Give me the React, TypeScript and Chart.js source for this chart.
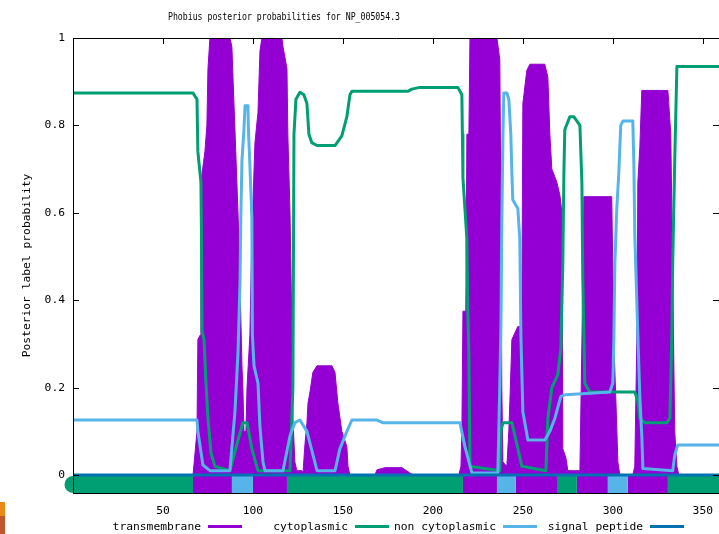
import React, { useEffect, useRef } from 'react';
import { Chart, registerables } from 'chart.js';

Chart.register(...registerables);

// ---------- text ----------
const TITLE = 'Phobius posterior probabilities for NP_005054.3';
const Y_TITLE = 'Posterior label probability';

// ---------- ticks ----------
const xTickValues = [50, 100, 150, 200, 250, 300, 350];
const xTickLabels = ['50', '100', '150', '200', '250', '300', '350'];
const yTickValues = [0, 0.2, 0.4, 0.6, 0.8, 1];
const yTickLabels = ['0', '0.2', '0.4', '0.6', '0.8', '1'];

// ---------- series ----------
const seriesNames = ['transmembrane', 'cytoplasmic', 'non cytoplasmic', 'signal peptide'];
const seriesColors = ['#9400d3', '#009e73', '#56b4e9', '#0072b2'];

// transmembrane posterior (residue position, probability)
const tmPos = [0, 66.7, 68.9, 69.4, 70.6, 71.1, 73.3, 74.4, 75, 76.1, 87.2, 88.3, 88.9, 90, 91.7, 92.8, 93.9, 94.4, 95, 96.1, 96.7, 98.3, 99.4, 101.1, 102.8, 103.9, 105, 116.1, 116.7, 118.9, 119.4, 120.6, 121.7, 122.2, 123.3, 124.4, 127.2, 127.8, 128.9, 130, 130.6, 131.7, 133.3, 135.6, 143.9, 145.6, 147.2, 149.4, 152.2, 152.8, 153.9, 167.8, 168.9, 173.3, 182.8, 187.2, 188.9, 214.4, 215.6, 216.1, 216.7, 218.3, 218.9, 220, 220.6, 235.6, 237.2, 237.8, 238.3, 238.9, 241.1, 242.2, 242.8, 243.9, 247.2, 249.4, 250, 252.2, 253.9, 262.2, 263.9, 265, 266.1, 268.9, 270.6, 271.7, 272.2, 273.9, 275, 281.7, 282.8, 283.9, 299.4, 300.6, 301.7, 302.8, 303.9, 311.1, 312.2, 313.3, 313.9, 315, 316.1, 330.6, 332.2, 333.3, 334.4, 335.6, 336.7, 359];
const tmProb = [0, 0, 0.1, 0.31, 0.32, 0.67, 0.74, 0.8, 0.93, 1, 1, 0.98, 0.91, 0.79, 0.6, 0.44, 0.25, 0.2, 0.1, 0.1, 0.2, 0.32, 0.55, 0.76, 0.83, 0.97, 1, 1, 0.98, 0.93, 0.78, 0.6, 0.32, 0.13, 0.03, 0.01, 0.01, 0.005, 0.07, 0.12, 0.165, 0.19, 0.235, 0.25, 0.25, 0.235, 0.165, 0.1, 0.065, 0.02, 0, 0, 0.012, 0.017, 0.017, 0.005, 0, 0, 0.02, 0.1, 0.375, 0.375, 0.78, 0.78, 1, 1, 0.95, 0.6, 0.2, 0.03, 0.02, 0.1, 0.17, 0.31, 0.34, 0.34, 0.85, 0.926, 0.94, 0.94, 0.91, 0.78, 0.7, 0.67, 0.64, 0.6, 0.06, 0.04, 0.01, 0.01, 0.3, 0.637, 0.637, 0.3, 0.17, 0.03, 0, 0, 0.02, 0.3, 0.67, 0.75, 0.88, 0.88, 0.78, 0.45, 0.1, 0.02, 0, 0];

// cytoplasmic posterior
const cytoPos = [0, 66.7, 68.9, 69.4, 71.1, 71.4, 71.7, 72.8, 73.9, 75, 76.7, 78.9, 87.2, 91.7, 94.4, 96.7, 99.4, 102.8, 120.6, 122.2, 122.8, 123.9, 126.1, 128.3, 130, 131.1, 132.8, 135.6, 145.6, 149.4, 152.2, 153.9, 155, 186.1, 188.3, 192.8, 213.9, 216.1, 216.4, 216.7, 218.9, 219.4, 220, 220.6, 237.2, 237.8, 238.9, 243.9, 246.7, 249.4, 262.8, 263.9, 266.1, 269.4, 271.1, 272.2, 272.8, 273.3, 276.1, 278.3, 281.7, 282.8, 283.3, 284.4, 287.2, 312.2, 313.9, 315, 317.8, 330, 331.7, 332.8, 333.3, 334.4, 335.6, 337.2, 359];
const cytoProb = [0.874, 0.874, 0.86, 0.74, 0.67, 0.55, 0.33, 0.31, 0.21, 0.13, 0.05, 0.02, 0.01, 0.08, 0.12, 0.12, 0.06, 0.01, 0.01, 0.2, 0.78, 0.86, 0.876, 0.87, 0.85, 0.78, 0.76, 0.754, 0.754, 0.776, 0.82, 0.87, 0.878, 0.878, 0.883, 0.887, 0.887, 0.87, 0.78, 0.68, 0.54, 0.38, 0.27, 0.02, 0.01, 0.1, 0.12, 0.12, 0.07, 0.02, 0.01, 0.13, 0.2, 0.23, 0.29, 0.48, 0.69, 0.79, 0.82, 0.82, 0.8, 0.67, 0.45, 0.21, 0.19, 0.19, 0.17, 0.13, 0.12, 0.12, 0.13, 0.32, 0.49, 0.72, 0.935, 0.935, 0.935];

// non cytoplasmic posterior
const nonCytoPos = [0, 68.9, 69.4, 72.2, 76.1, 87.2, 90, 91.7, 92.8, 93.3, 93.9, 95, 95.6, 97.2, 97.5, 98.3, 99.4, 99.7, 100.6, 102.8, 103.9, 105.6, 106.7, 116.7, 120.6, 123.3, 126.1, 130, 135.6, 145.6, 148.3, 152.2, 155, 168.9, 172.2, 215, 217.8, 221.7, 236.1, 237.2, 237.8, 238.3, 238.9, 239.4, 241.1, 242.2, 243.3, 243.9, 244.4, 247.2, 248.3, 248.9, 250, 252.8, 262.2, 265, 267.8, 271.1, 273.9, 298.3, 300, 300.6, 301.1, 302.2, 303.3, 304.4, 305.6, 311.1, 311.7, 312.2, 313.3, 313.9, 315, 316.1, 316.7, 333.3, 334.4, 336.1, 359];
const nonCytoProb = [0.126, 0.126, 0.1, 0.023, 0.01, 0.01, 0.145, 0.28, 0.44, 0.6, 0.72, 0.79, 0.845, 0.845, 0.79, 0.71, 0.59, 0.32, 0.25, 0.21, 0.11, 0.03, 0.01, 0.01, 0.09, 0.12, 0.126, 0.1, 0.01, 0.01, 0.06, 0.1, 0.126, 0.126, 0.12, 0.12, 0.065, 0.005, 0.005, 0.21, 0.34, 0.57, 0.77, 0.874, 0.874, 0.86, 0.78, 0.69, 0.63, 0.61, 0.54, 0.32, 0.145, 0.08, 0.08, 0.1, 0.13, 0.18, 0.184, 0.19, 0.21, 0.32, 0.48, 0.61, 0.69, 0.8, 0.81, 0.81, 0.71, 0.55, 0.4, 0.32, 0.18, 0.09, 0.015, 0.01, 0.046, 0.069, 0.069];

// signal peptide posterior
const sigPos = [0, 359];
const sigProb = [0, 0];

// predicted topology (segments along the bottom band); class index -> seriesColors
const topoStart = [0, 66.7, 88.3, 100, 118.9, 216.7, 235.6, 246.1, 269.4, 280, 297.2, 308.3, 330.6];
const topoEnd = [66.7, 88.3, 100, 118.9, 216.7, 235.6, 246.1, 269.4, 280, 297.2, 308.3, 330.6, 359];
const topoClass = [1, 0, 2, 0, 1, 0, 2, 0, 1, 0, 2, 0, 1];

const X_MIN = 0;
const X_MAX = 359;
const Y_MIN = -0.041;
const Y_MAX = 1;
const BAND_Y = -0.0215;

const FONT = "'DejaVu Sans Mono', monospace";

const zip = (xs: number[], ys: number[]) => xs.map((x, i) => ({ x, y: ys[i] }));

const framePlugin = {
  id: 'frame',
  afterDatasetsDraw(chart: any) {
    const { ctx, chartArea, scales } = chart;
    const { left, right, top, bottom } = chartArea;
    ctx.save();
    ctx.strokeStyle = '#000';
    ctx.lineWidth = 1;
    ctx.beginPath();
    ctx.moveTo(left + 0.5, bottom + 0.5);
    ctx.lineTo(left + 0.5, top + 0.5);
    ctx.lineTo(right + 0.5, top + 0.5);
    ctx.moveTo(left, bottom + 0.5);
    ctx.lineTo(right, bottom + 0.5);
    xTickValues.forEach((v) => {
      const px = Math.round(scales.x.getPixelForValue(v)) + 0.5;
      ctx.moveTo(px, top);
      ctx.lineTo(px, top + 6);
    });
    yTickValues.forEach((v) => {
      const py = Math.round(scales.y.getPixelForValue(v)) + 0.5;
      ctx.moveTo(left, py);
      ctx.lineTo(left + 6, py);
      ctx.moveTo(right - 6, py);
      ctx.lineTo(right, py);
    });
    ctx.stroke();
    ctx.restore();
  },
  afterDraw(chart: any) {
    const { ctx } = chart;
    ctx.save();
    ctx.fillStyle = '#000';
    // title
    ctx.font = `10px ${FONT}`;
    ctx.textAlign = 'center';
    ctx.textBaseline = 'alphabetic';
    ctx.fillText(TITLE, 284, 20, 232);
    // legend (gnuplot style: text, then sample line)
    const textRight = [201, 348, 496, 643];
    ctx.font = `11.3px ${FONT}`;
    ctx.textAlign = 'right';
    ctx.textBaseline = 'middle';
    seriesNames.forEach((name, i) => {
      ctx.fillStyle = '#000';
      ctx.fillText(name, textRight[i], 527);
      ctx.strokeStyle = seriesColors[i];
      ctx.lineWidth = 3;
      ctx.beginPath();
      ctx.moveTo(textRight[i] + 7, 526.5);
      ctx.lineTo(textRight[i] + 41, 526.5);
      ctx.stroke();
    });
    ctx.restore();
  },
};

export default function App() {
  const ref = useRef<HTMLCanvasElement>(null);

  useEffect(() => {
    document.body.style.margin = '0';
    const bandSets = topoStart.map((s, i) => ({
      label: 'topology',
      data: [
        { x: s, y: BAND_Y },
        { x: topoEnd[i], y: BAND_Y },
      ],
      borderColor: seriesColors[topoClass[i]],
      backgroundColor: seriesColors[topoClass[i]],
      borderWidth: 17,
      borderCapStyle: i === 0 ? 'round' : 'butt',
      pointRadius: 0,
      fill: false,
      clip: false,
      order: i === 0 ? 11 : 10,
    }));

    const chart = new Chart(ref.current as HTMLCanvasElement, {
      type: 'line',
      data: {
        datasets: [
          ...bandSets,
          {
            label: seriesNames[0],
            data: zip(tmPos, tmProb),
            borderColor: seriesColors[0],
            backgroundColor: seriesColors[0],
            borderWidth: 1,
            pointRadius: 0,
            fill: 'origin',
            order: 5,
          },
          {
            label: seriesNames[1],
            data: zip(cytoPos, cytoProb),
            borderColor: seriesColors[1],
            borderWidth: 3,
            borderJoinStyle: 'round',
            pointRadius: 0,
            fill: false,
            order: 4,
          },
          {
            label: seriesNames[2],
            data: zip(nonCytoPos, nonCytoProb),
            borderColor: seriesColors[2],
            borderWidth: 3,
            borderJoinStyle: 'round',
            pointRadius: 0,
            fill: false,
            order: 3,
          },
          {
            label: seriesNames[3],
            data: zip(sigPos, sigProb),
            borderColor: seriesColors[3],
            borderWidth: 3,
            pointRadius: 0,
            fill: false,
            order: 2,
          },
        ] as any,
      },
      options: {
        animation: false,
        responsive: false,
        maintainAspectRatio: false,
        devicePixelRatio: 1,
        layout: { padding: { top: 38, left: 0, right: 0, bottom: 0 } },
        plugins: {
          legend: { display: false },
          title: { display: false },
          tooltip: { enabled: false },
        },
        elements: { line: { tension: 0 } },
        scales: {
          x: {
            type: 'linear',
            min: X_MIN,
            max: X_MAX,
            grid: { display: false, drawTicks: false },
            border: { display: false },
            afterBuildTicks: (scale: any) => {
              scale.ticks = xTickValues.map((v) => ({ value: v }));
            },
            afterFit: (scale: any) => {
              scale.height = 41;
              scale.paddingLeft = 0;
              scale.paddingRight = 0;
            },
            ticks: {
              autoSkip: false,
              maxRotation: 0,
              padding: 11,
              color: '#000',
              font: { family: FONT, size: 11.3 },
              callback: (_v: any, i: number) => xTickLabels[i],
            },
          },
          y: {
            type: 'linear',
            min: Y_MIN,
            max: Y_MAX,
            grid: { display: false, drawTicks: false },
            border: { display: false },
            afterBuildTicks: (scale: any) => {
              scale.ticks = yTickValues.map((v) => ({ value: v }));
            },
            afterFit: (scale: any) => {
              scale.width = 73;
              scale.paddingTop = 0;
              scale.paddingBottom = 0;
            },
            ticks: {
              autoSkip: false,
              padding: 8,
              color: '#000',
              font: { family: FONT, size: 11.3 },
              callback: (_v: any, i: number) => yTickLabels[i],
            },
            title: {
              display: true,
              text: Y_TITLE,
              color: '#000',
              font: { family: FONT, size: 11.3 },
              padding: { top: 20, bottom: 0 },
            },
          },
        },
      } as any,
      plugins: [framePlugin],
    });
    return () => chart.destroy();
  }, []);

  return (
    <div style={{ position: 'absolute', left: 0, top: 0, width: 719, height: 534, background: '#fff', overflow: 'hidden' }}>
      <canvas ref={ref} width={719} height={534} style={{ display: 'block', width: 719, height: 534 }} />
      <div style={{ position: 'absolute', left: 0, top: 502, width: 5, height: 14, background: '#e98b18' }} />
      <div style={{ position: 'absolute', left: 0, top: 516, width: 5, height: 18, background: '#c0562b' }} />
    </div>
  );
}
